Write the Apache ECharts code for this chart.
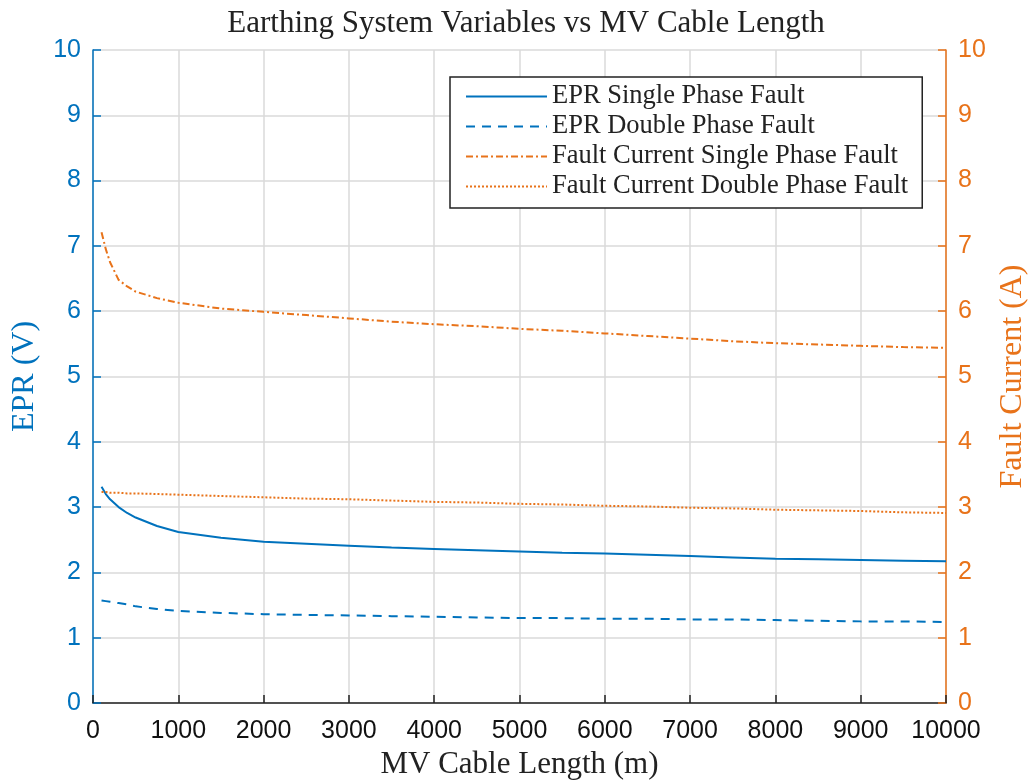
<!DOCTYPE html>
<html>
<head>
<meta charset="utf-8">
<script src="https://cdn.jsdelivr.net/npm/echarts@6/dist/echarts.min.js"></script>
<style>
  html, body { margin: 0; padding: 0; background: #fff; }
  #chart { width: 1032px; height: 780px; }
</style>
</head>
<body>
<div id="chart"></div>
<script>
// Cable length samples (m)
const cableLength = [100, 150, 200, 300, 400, 500, 750, 1000, 1500, 2000, 2500, 3000, 3500, 4000, 4500,
  5000, 5500, 6000, 6500, 7000, 7500, 8000, 8500, 9000, 9500, 10000];

// Earth potential rise (V)
const eprSingle = [3.31, 3.20, 3.12, 3.00, 2.91, 2.84, 2.71, 2.62, 2.53, 2.47, 2.44, 2.41, 2.38, 2.36, 2.34,
  2.32, 2.30, 2.29, 2.27, 2.25, 2.23, 2.21, 2.20, 2.19, 2.18, 2.17];
const eprDouble = [1.57, 1.56, 1.55, 1.53, 1.51, 1.48, 1.44, 1.41, 1.38, 1.36, 1.35, 1.34, 1.33, 1.32, 1.31,
  1.30, 1.30, 1.29, 1.29, 1.28, 1.28, 1.27, 1.26, 1.25, 1.25, 1.24];

// Fault current (A)
const currentSingle = [7.21, 6.95, 6.75, 6.48, 6.38, 6.30, 6.20, 6.13, 6.04, 5.99, 5.94, 5.89, 5.84, 5.80, 5.77,
  5.73, 5.70, 5.66, 5.62, 5.58, 5.54, 5.51, 5.49, 5.47, 5.45, 5.44];
const currentDouble = [3.23, 3.23, 3.22, 3.22, 3.21, 3.21, 3.20, 3.19, 3.17, 3.15, 3.13, 3.12, 3.10, 3.08, 3.07,
  3.05, 3.04, 3.02, 3.01, 2.99, 2.98, 2.96, 2.95, 2.94, 2.92, 2.91];

const seriesNames = ['EPR Single Phase Fault', 'EPR Double Phase Fault',
  'Fault Current Single Phase Fault', 'Fault Current Double Phase Fault'];
const xTicks = [0, 1000, 2000, 3000, 4000, 5000, 6000, 7000, 8000, 9000, 10000];

const BLUE = '#0072BD';
const ORANGE = '#E8731A';
const SERIF = '"Liberation Serif", "DejaVu Serif", serif';
const SANS = '"Liberation Sans", Arial, sans-serif';

const pairs = ys => cableLength.map((x, i) => [x, ys[i]]);

function yAxis(color, name, position) {
  return {
    type: 'value', position: position, min: 0, max: 10, interval: 1,
    name: name, nameLocation: 'middle', nameGap: position === 'left' ? 52 : 51,
    nameTextStyle: { color: color, fontFamily: SERIF, fontSize: 32 },
    axisLine: { show: true, lineStyle: { color: color, width: 1.5 } },
    axisTick: { show: true, inside: true, length: 8, lineStyle: { color: color, width: 1.5 } },
    axisLabel: { color: color, fontFamily: SANS, fontSize: 25, margin: 12 },
    splitLine: { show: position === 'left', lineStyle: { color: '#dadada', width: 1.5 } }
  };
}

const chart = echarts.init(document.getElementById('chart'));
chart.setOption({
  animation: false,
  title: {
    text: 'Earthing System Variables vs MV Cable Length',
    left: 521, top: 3, textAlign: 'center',
    textStyle: { fontFamily: SERIF, fontSize: 31, fontWeight: 'normal', color: '#222' }
  },
  grid: { left: 93, right: 86, top: 50, bottom: 77, outerBoundsMode: 'none', containLabel: false },
  legend: {
    data: seriesNames,
    orient: 'vertical', left: 450, top: 77,
    backgroundColor: '#fff', borderColor: '#222', borderWidth: 1.5,
    padding: [6, 14, 8, 15], itemGap: 3, itemWidth: 81, itemHeight: 26, itemTextGap: 8,
    itemStyle: { opacity: 0 },
    textStyle: { fontFamily: SERIF, fontSize: 26.5, lineHeight: 26, color: '#222' }
  },
  xAxis: {
    type: 'value', min: 0, max: 10000, interval: 1000,
    name: 'MV Cable Length (m)', nameLocation: 'middle', nameGap: 44,
    nameTextStyle: { color: '#222', fontFamily: SERIF, fontSize: 31 },
    axisLine: { show: true, onZero: false, lineStyle: { color: '#222', width: 1.5 } },
    axisTick: { show: true, inside: true, length: 8, lineStyle: { color: '#222', width: 1.5 } },
    axisLabel: { color: '#111', fontFamily: SANS, fontSize: 25, margin: 16,
      formatter: v => (xTicks.indexOf(v) >= 0 ? String(v) : '') },
    splitLine: { show: true, lineStyle: { color: '#dadada', width: 1.5 } }
  },
  yAxis: [yAxis(BLUE, 'EPR (V)', 'left'), yAxis(ORANGE, 'Fault Current (A)', 'right')],
  series: [
    { name: seriesNames[0], type: 'line', yAxisIndex: 0, data: pairs(eprSingle), symbol: 'none',
      color: BLUE, lineStyle: { color: BLUE, width: 2, type: 'solid' } },
    { name: seriesNames[1], type: 'line', yAxisIndex: 0, data: pairs(eprDouble), symbol: 'none',
      color: BLUE, lineStyle: { color: BLUE, width: 2, type: [9, 7] } },
    { name: seriesNames[2], type: 'line', yAxisIndex: 1, data: pairs(currentSingle), symbol: 'none',
      color: ORANGE, lineStyle: { color: ORANGE, width: 2, type: [7, 3, 2, 3] } },
    { name: seriesNames[3], type: 'line', yAxisIndex: 1, data: pairs(currentDouble), symbol: 'none',
      color: ORANGE, lineStyle: { color: ORANGE, width: 2, type: [2, 2] } }
  ]
});
</script>
</body>
</html>
